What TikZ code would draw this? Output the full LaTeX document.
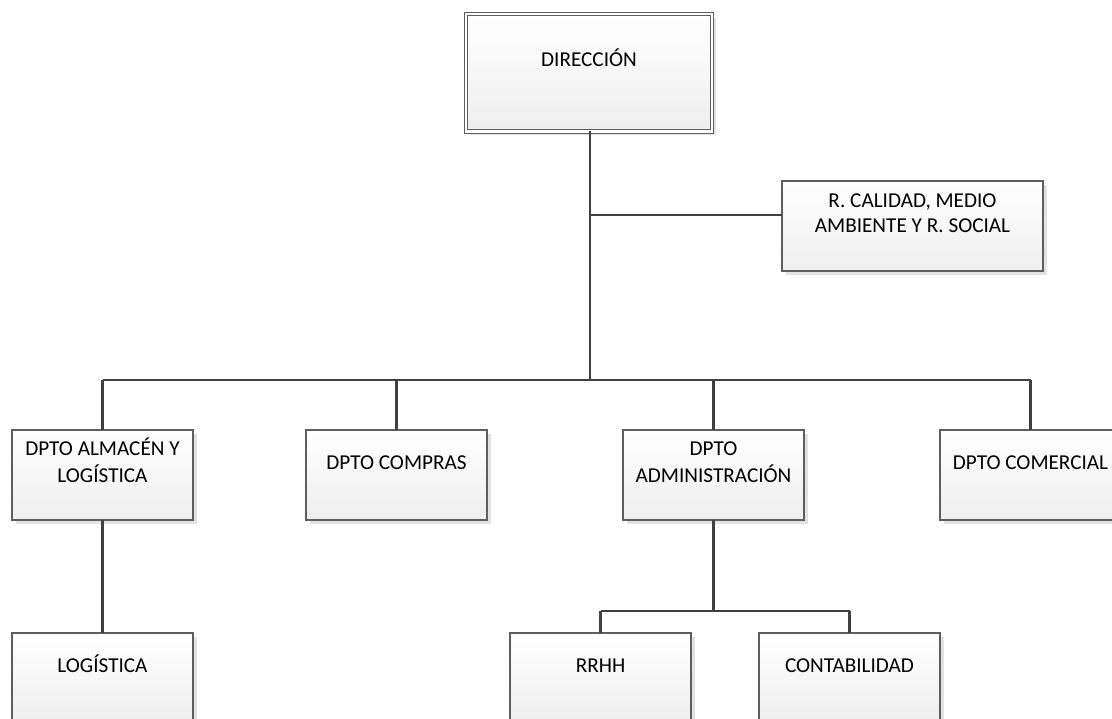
\documentclass[tikz,border=0pt]{standalone}
\usepackage{fontspec}
\setmainfont{Carlito}
\usetikzlibrary{shadows}
\definecolor{boxline}{HTML}{5E5E5E}
\definecolor{conncol}{HTML}{404040}
\definecolor{boxbot}{HTML}{EEEEEE}
\definecolor{shadowgray}{HTML}{E2E2E2}
\newcommand{\bxt}[3]{\parbox[c][#1pt][c]{#2pt}{\centering\strut #3\strut\par\vspace{22pt}}}
\tikzset{
  orgbox/.style={draw=boxline, line width=1.1pt, top color=white, bottom color=boxbot,
    inner sep=0pt, outer sep=0pt, anchor=north west,
    general shadow={fill=shadowgray, shadow xshift=4pt, shadow yshift=-4pt},
    font=\fontsize{21.2}{25}\selectfont},
  conn/.style={draw=conncol, line width=2.2pt}
}
\begin{document}
\begin{tikzpicture}[x=1pt,y=-1pt]
\useasboundingbox (0,0) rectangle (1112,719);
\clip (0,0) rectangle (1112,719);
% boxes
\node[orgbox, double=white, double distance=2.6pt] (dir) at (466,14) {\bxt{117.5}{246}{DIRECCIÓN}};
\node[orgbox] (rcal) at (782,181) {\bxt{90}{261}{R. CALIDAD, MEDIO\\AMBIENTE Y R. SOCIAL}};
\node[orgbox] (alm) at (12,430) {\bxt{90}{181}{DPTO ALMACÉN Y\\LOGÍSTICA}};
\node[orgbox] (comp) at (306,430) {\bxt{90}{181}{DPTO COMPRAS}};
\node[orgbox] (adm) at (623,430) {\bxt{90}{181}{DPTO\\ADMINISTRACIÓN}};
\node[orgbox] (com) at (940,430) {\bxt{90}{181}{DPTO COMERCIAL}};
\node[orgbox] (log) at (12,633) {\bxt{90}{181}{LOGÍSTICA}};
\node[orgbox] (rrhh) at (510,633) {\bxt{90}{181}{RRHH}};
\node[orgbox] (cont) at (759,633) {\bxt{90}{181}{CONTABILIDAD}};
% connectors
\coordinate (trunk) at (590,380);
\coordinate (tee) at (590,215);
\coordinate (split) at (713.5,611);
\draw[conn] (dir.south -| trunk) -- (trunk);
\draw[conn] (tee) -- (tee -| rcal.west);
\draw[conn] (alm.north |- trunk) -- (com.north |- trunk);
\draw[conn] (alm.north |- trunk) -- (alm.north);
\draw[conn] (comp.north |- trunk) -- (comp.north);
\draw[conn] (adm.north |- trunk) -- (adm.north);
\draw[conn] (com.north |- trunk) -- (com.north);
\draw[conn] (alm.south) -- (log.north);
\draw[conn] (adm.south) -- (split);
\draw[conn] (rrhh.north |- split) -- (cont.north |- split);
\draw[conn] (rrhh.north |- split) -- (rrhh.north);
\draw[conn] (cont.north |- split) -- (cont.north);
\end{tikzpicture}
\end{document}
